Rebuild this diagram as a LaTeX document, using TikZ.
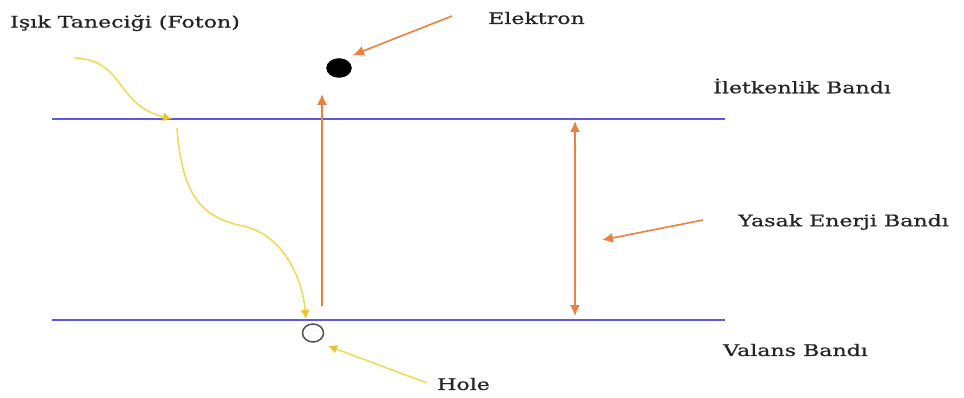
\documentclass[tikz,border=0pt]{standalone}
\usepackage{fontspec}
\setmainfont{DejaVu Serif}[FakeStretch=1.38,FakeBold=0.6]
\usetikzlibrary{arrows.meta,shapes.geometric}
\definecolor{bandblue}{RGB}{90,90,225}
\definecolor{arrorange}{RGB}{236,128,60}
\definecolor{photon}{RGB}{240,218,90}
\definecolor{photonhead}{RGB}{235,195,40}
\definecolor{textgray}{RGB}{35,35,35}
\definecolor{holegray}{RGB}{80,80,90}
\tikzset{
  lbl/.style={font=\fontsize{16}{18}\selectfont, text=textgray, inner sep=0pt, anchor=west},
  band/.style={draw=bandblue, line width=1.6pt},
  oarrow/.style={draw=arrorange, line width=1.6pt, -{Latex[length=11pt,width=10pt]}},
  yarrow/.style={draw=photon, line width=1.6pt, -{Latex[length=9pt,width=9pt,color=photonhead]}}
}
\begin{document}
\begin{tikzpicture}[x=1pt,y=-1pt]
\useasboundingbox (0,0) rectangle (964,398);
% coordinates
\coordinate (cl1) at (52,119);
\coordinate (cr1) at (725,119);
\coordinate (cl2) at (52,320);
\coordinate (cr2) at (725,320);
% bands
\draw[band] (cl1) -- (cr1);
\draw[band] (cl2) -- (cr2);
% labels
\node[lbl] (foton) at (10,23) {Işık Taneciği (Foton)};
\node[lbl] (elek) at (488,18) {Elektron};
\node[lbl] (ilet) at (713,86) {İletkenlik Bandı};
\node[lbl] (yasak) at (738,222) {Yasak Enerji Bandı};
\node[lbl] (valans) at (723,350) {Valans Bandı};
\node[lbl] (hole) at (437,384) {Hole};
% electron and hole
\node[draw=black, fill=black, ellipse, minimum width=25pt, minimum height=19pt, inner sep=0pt] (e) at (339,68) {};
\node[draw=holegray, line width=1.5pt, ellipse, minimum width=21pt, minimum height=18pt, inner sep=0pt] (h) at (313,333) {};
% vertical excitation arrow
\coordinate (vb) at (322,306);
\coordinate (vt) at (322,94);
\draw[oarrow] (vb) -- (vt);
% band gap double arrow
\coordinate (gt) at (575,121);
\coordinate (gb) at (575,316);
\draw[oarrow, {Latex[length=11pt,width=10pt]}-{Latex[length=11pt,width=10pt]}] (gt) -- (gb);
% pointer arrows
\coordinate (es) at (452,16);
\coordinate (ee) at (353,55);
\draw[oarrow] (es) -- (ee);
\coordinate (ys) at (703,220);
\coordinate (ye) at (602,240);
\draw[oarrow] (ys) -- (ye);
\coordinate (hs) at (427,383);
\coordinate (he) at (328,346);
\draw[yarrow] (hs) -- (he);
% photon paths
\coordinate (p1) at (75,58);
\coordinate (p1e) at (172,119);
\draw[yarrow] (p1) .. controls (125,60) and (115,105) .. (p1e);
\coordinate (p2) at (177,128);
\coordinate (pm) at (243,226);
\coordinate (p2e) at (306,319);
\draw[yarrow] (p2) .. controls (182,200) and (205,218) .. (pm) .. controls (281,234) and (302,275) .. (p2e);
\end{tikzpicture}
\end{document}
